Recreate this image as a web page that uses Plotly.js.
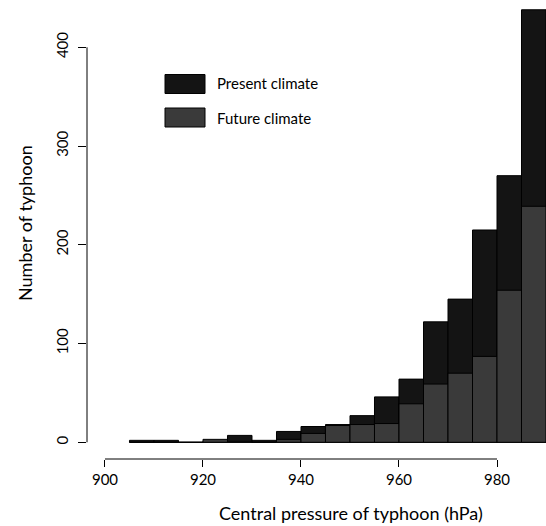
<!DOCTYPE html>
<html>
<head>
<meta charset="utf-8">
<script src="https://cdn.plot.ly/plotly-3.0.1.min.js"></script>
<style>html,body{margin:0;padding:0;background:#fff;}#chart{width:546px;height:526px;}</style>
</head>
<body>
<div id="chart"></div>
<script>
// Bin left edges of central pressure (hPa), bin width 5 hPa
const binStart = [905, 910, 915, 920, 925, 930, 935, 940, 945, 950, 955, 960, 965, 970, 975, 980, 985];
const binWidth = 5;
// Number of typhoons per bin
const presentCounts = [2, 2, 0, 1, 7, 2, 11, 16, 18, 27, 46, 64, 122, 145, 215, 270, 438];
const futureCounts  = [0, 0, 0, 3, 1, 0, 3, 9, 17, 18, 19, 39, 59, 70, 87, 154, 239];
const seriesNames = ["Present climate", "Future climate"];
const xTicks = [900, 920, 940, 960, 980];
const yTicks = [0, 100, 200, 300, 400];

const FONT = "Lato, 'Open Sans', sans-serif";
const colPresent = "#141414";
const colFuture = "#3a3a3a";

const traces = [
  {type: "bar", name: seriesNames[0], x: binStart, y: presentCounts, width: binWidth, offset: 0,
   marker: {color: colPresent, line: {color: "#000", width: 1}}, showlegend: false, hoverinfo: "skip"},
  {type: "bar", name: seriesNames[1], x: binStart, y: futureCounts, width: binWidth, offset: 0,
   marker: {color: colFuture, line: {color: "#000", width: 1}}, showlegend: false, hoverinfo: "skip"}
];

const layout = {
  width: 546, height: 526,
  margin: {l: 87, r: 0, t: 0, b: 67, pad: 0},
  paper_bgcolor: "#fff", plot_bgcolor: "#fff",
  barmode: "overlay",
  showlegend: false,
  font: {family: FONT, color: "#000"},
  xaxis: {range: [896.33, 990], tickvals: xTicks, ticktext: xTicks.map(String),
          ticks: "outside", ticklen: 7, tickwidth: 1, tickcolor: "#000",
          showline: false, zeroline: false, showgrid: false,
          tickfont: {size: 15, family: FONT, color: "#000"}},
  yaxis: {range: [-16.9, 447.9], tickvals: yTicks, ticktext: yTicks.map(String),
          ticks: "outside", ticklen: 8, tickwidth: 1, tickcolor: "#000", tickangle: -90,
          ticklabelstandoff: 4,
          showline: false, zeroline: false, showgrid: false,
          tickfont: {size: 15, family: FONT, color: "#000"}},
  shapes: [
    {type: "line", xref: "x", yref: "paper", x0: xTicks[0], x1: xTicks[xTicks.length - 1], y0: 0, y1: 0,
     line: {color: "#000", width: 1}},
    {type: "line", xref: "paper", yref: "y", x0: 0, x1: 0, y0: yTicks[0], y1: yTicks[yTicks.length - 1],
     line: {color: "#000", width: 1}},
    {type: "rect", xref: "paper", yref: "paper", x0: (165 - 87) / 459, x1: (205 - 87) / 459,
     y0: 1 - 93.5 / 459, y1: 1 - 74.5 / 459, fillcolor: colPresent, line: {color: "#000", width: 1}},
    {type: "rect", xref: "paper", yref: "paper", x0: (165 - 87) / 459, x1: (205 - 87) / 459,
     y0: 1 - 127 / 459, y1: 1 - 108 / 459, fillcolor: colFuture, line: {color: "#000", width: 1}}
  ],
  annotations: [
    {text: seriesNames[0], xref: "paper", yref: "paper", x: (215 - 87) / 459, y: 1 - 83.5 / 459,
     xanchor: "left", yanchor: "middle", showarrow: false, font: {size: 15, family: FONT, color: "#000"}},
    {text: seriesNames[1], xref: "paper", yref: "paper", x: (215 - 87) / 459, y: 1 - 117.5 / 459,
     xanchor: "left", yanchor: "middle", showarrow: false, font: {size: 15, family: FONT, color: "#000"}},
    {text: "Central pressure of typhoon (hPa)", xref: "paper", yref: "paper", x: (351 - 87) / 459, y: (459 - 512.5) / 459,
     xanchor: "center", yanchor: "middle", showarrow: false, font: {size: 18, family: FONT, color: "#000"}},
    {text: "Number of typhoon", xref: "paper", yref: "paper", x: (25 - 87) / 459, y: 1 - 223 / 459,
     xanchor: "center", yanchor: "middle", textangle: -90, showarrow: false, font: {size: 18, family: FONT, color: "#000"}}
  ]
};

Plotly.newPlot("chart", traces, layout, {displayModeBar: false, staticPlot: true});
</script>
</body>
</html>
